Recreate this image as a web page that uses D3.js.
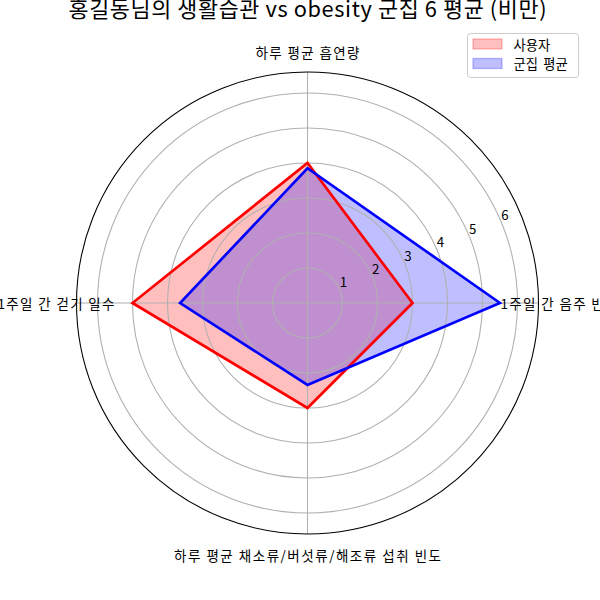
<!DOCTYPE html>
<html>
<head>
<meta charset="utf-8">
<script src="https://cdn.jsdelivr.net/npm/d3@7/dist/d3.min.js"></script>
<style>
  html, body { margin: 0; padding: 0; background: #fff; }
  svg { display: block; }
  text { font-family: "Noto Sans CJK KR", "Noto Sans", sans-serif; fill: #000; }
</style>
</head>
<body>
<svg id="chart" width="600" height="600"></svg>
<script>
// ---- data ----
const categories = ['1주일 간 음주 빈도', '하루 평균 흡연량', '1주일 간 걷기 일수', '하루 평균 채소류/버섯류/해조류 섭취 빈도'];
const userValues = [3, 4, 5, 3];
const clusterValues = [5.5, 3.85, 3.64, 2.34];
const rTicks = [1, 2, 3, 4, 5, 6];
const seriesNames = ['사용자', '군집 평균'];
const seriesColors = ['red', 'blue'];
const titleText = '홍길동님의 생활습관 vs obesity 군집 6 평균 (비만)';

// ---- layout / style ----
const W = 600, H = 600;
const cx = 307.5, cy = 303, R = 231;
const labelWidths = [117, 104, 117, 267];   // rendered widths of the category labels
const titleWidth = 478;
const rMax = d3.max(userValues.concat(clusterValues)) * 1.2;

const svg = d3.select('#chart');
const r = d3.scaleLinear().domain([0, rMax]).range([0, R]);
const angle = d3.scaleLinear().domain([0, categories.length]).range([0, 2 * Math.PI]);

const px = (i, v) => cx + r(v) * Math.cos(angle(i));
const py = (i, v) => cy - r(v) * Math.sin(angle(i));

const gFill = svg.append('g');
const gGrid = svg.append('g');
const gLines = svg.append('g');
const gText = svg.append('g');

const series = [userValues, clusterValues];

// fills
series.forEach((vals, s) => {
  const pts = vals.map((v, i) => [px(i, v), py(i, v)]);
  gFill.append('path')
    .attr('d', d3.line()(pts) + 'Z')
    .attr('fill', seriesColors[s])
    .attr('fill-opacity', 0.25)
    .attr('stroke', seriesColors[s])
    .attr('stroke-opacity', 0.25)
    .attr('stroke-width', 1.33);
});

// grid circles
gGrid.selectAll('circle.grid').data(rTicks).enter().append('circle')
  .attr('cx', cx).attr('cy', cy).attr('r', d => r(d))
  .attr('fill', 'none').attr('stroke', '#b0b0b0').attr('stroke-width', 1.07);

// spokes
gGrid.selectAll('line.spoke').data(categories).enter().append('line')
  .attr('x1', cx).attr('y1', cy)
  .attr('x2', (d, i) => px(i, rMax)).attr('y2', (d, i) => py(i, rMax))
  .attr('stroke', '#b0b0b0').attr('stroke-width', 1.07);

// lines
series.forEach((vals, s) => {
  const pts = vals.map((v, i) => [px(i, v), py(i, v)]);
  gLines.append('path')
    .attr('d', d3.line()(pts) + 'Z')
    .attr('fill', 'none')
    .attr('stroke', seriesColors[s])
    .attr('stroke-width', 2.67)
    .attr('stroke-linejoin', 'miter');
});

// outer spine
gLines.append('circle')
  .attr('cx', cx).attr('cy', cy).attr('r', R)
  .attr('fill', 'none').attr('stroke', '#000').attr('stroke-width', 1.07);

// category labels
const labelR = R + 20.5;
gText.selectAll('text.cat').data(categories).enter().append('text')
  .attr('x', (d, i) => cx + labelR * Math.cos(angle(i)))
  .attr('y', (d, i) => cy - labelR * Math.sin(angle(i)))
  .attr('text-anchor', 'middle')
  .attr('dominant-baseline', 'central')
  .attr('font-size', 13.5)
  .attr('textLength', (d, i) => labelWidths[i])
  .attr('lengthAdjust', 'spacing')
  .text(d => d);

// radial tick labels at 22.5 deg
const rlabA = 22.5 * Math.PI / 180;
gText.selectAll('text.rt').data(rTicks).enter().append('text')
  .attr('x', d => cx + r(d) * Math.cos(rlabA) + 3.5)
  .attr('y', d => cy - r(d) * Math.sin(rlabA) - 7.8)
  .attr('text-anchor', 'middle')
  .attr('dominant-baseline', 'central')
  .attr('font-size', 13.3)
  .text(d => d);

// title
svg.append('text')
  .attr('x', cx).attr('y', 17)
  .attr('text-anchor', 'middle')
  .attr('font-size', 21.8)
  .attr('textLength', titleWidth)
  .attr('lengthAdjust', 'spacing')
  .text(titleText);

// legend
const lg = svg.append('g');
lg.append('rect')
  .attr('x', 467.5).attr('y', 33.5).attr('width', 111).attr('height', 44)
  .attr('rx', 3).attr('ry', 3)
  .attr('fill', '#fff').attr('fill-opacity', 0.8)
  .attr('stroke', '#cccccc').attr('stroke-width', 1);
seriesNames.forEach((name, s) => {
  const yc = 44 + s * 19.5;
  lg.append('rect')
    .attr('x', 473).attr('y', yc - 5).attr('width', 29).attr('height', 10)
    .attr('fill', seriesColors[s]).attr('fill-opacity', 0.25)
    .attr('stroke', seriesColors[s]).attr('stroke-opacity', 0.25).attr('stroke-width', 1.33);
  lg.append('text')
    .attr('x', 513.5).attr('y', yc)
    .attr('dominant-baseline', 'central')
    .attr('font-size', 13.3)
    .attr('word-spacing', 2.4)
    .text(name);
});
</script>
</body>
</html>
